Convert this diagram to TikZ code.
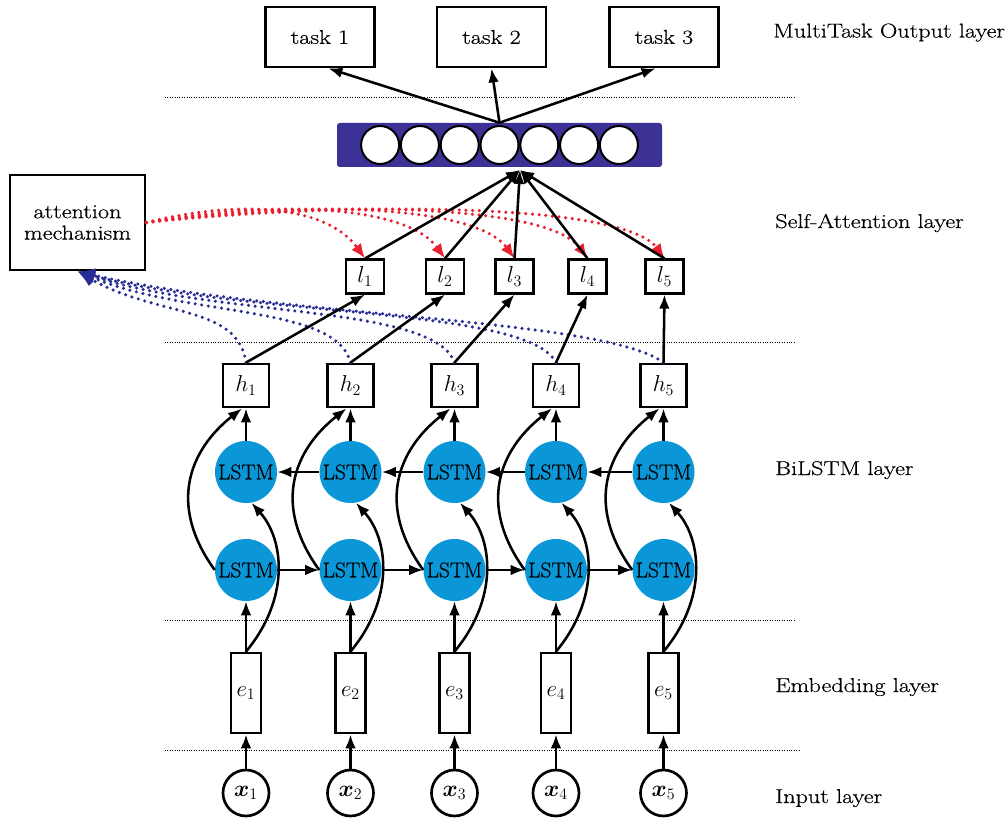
\documentclass[tikz,border=0pt]{standalone}
\usepackage[no-math]{fontspec}
\setmainfont{Latin Modern Roman}[FakeStretch=1.21,FakeBold=0.5]
\newfontfamily\plainlm{Latin Modern Roman}[FakeBold=0.5]
\usepackage{bm}
\usetikzlibrary{arrows.meta,calc}
\definecolor{lstmblue}{RGB}{10,150,215}
\definecolor{barblue}{RGB}{60,50,150}
\definecolor{attred}{RGB}{235,30,45}
\definecolor{dotblue}{RGB}{40,45,150}
\begin{document}
\begin{tikzpicture}[x=0.75pt,y=-0.75pt,
  every node/.style={font=\fontsize{15}{16}\selectfont},
  box/.style={draw,line width=2.1pt,inner sep=0pt,fill=white},
  mathbox/.style={box,font=\fontsize{17.28}{19}\selectfont},
  lstm/.style={circle,fill=lstmblue,inner sep=0pt,minimum size=46.5pt,font=\plainlm\fontsize{16}{18}\selectfont},
  arr/.style={line width=1.9pt,-{Latex[length=10.5pt,width=8pt]}},
  sep/.style={line width=0.7pt,dash pattern=on 0.7pt off 1.1pt},
  reddot/.style={attred,line width=2.6pt,line cap=round,dash pattern=on 0pt off 5pt,-{Latex[length=11pt,width=9pt]}},
  bluedot/.style={dotblue,line width=2.6pt,line cap=round,dash pattern=on 0pt off 5pt,-{Latex[length=13pt,width=11pt]}},
  layerlab/.style={anchor=base west,inner sep=0pt}
]
\useasboundingbox (0,0) rectangle (1008,820);

% layer separators
\coordinate (s1a) at (165,97);  \coordinate (s1b) at (795,97);
\coordinate (s2a) at (165,342); \coordinate (s2b) at (795,342);
\coordinate (s3a) at (165,620); \coordinate (s3b) at (795,620);
\coordinate (s4a) at (165,750); \coordinate (s4b) at (800,750);
\draw[sep] (s1a) -- (s1b);
\draw[sep] (s2a) -- (s2b);
\draw[sep] (s3a) -- (s3b);
\draw[sep] (s4a) -- (s4b);

% layer labels
\node[layerlab] (lab1) at (773,37.5) {MultiTask Output layer};
\node[layerlab] (lab2) at (775,228) {Self-Attention layer};
\node[layerlab] (lab3) at (775,475) {BiLSTM layer};
\node[layerlab] (lab4) at (775,692) {Embedding layer};
\node[layerlab] (lab5) at (775,803) {Input layer};

% tasks
\node[box,minimum width=81.75pt,minimum height=45pt] (t1) at (320,37) {task 1};
\node[box,minimum width=81.75pt,minimum height=45pt] (t2) at (491.5,37) {task 2};
\node[box,minimum width=81.75pt,minimum height=45pt] (t3) at (664,37) {task 3};

% attention vector
\node[fill=barblue,rounded corners=2pt,minimum width=243.75pt,minimum height=33pt,inner sep=0pt] (bar) at (499.5,145) {};
\foreach \k in {-3,...,3}
  \node[circle,draw,fill=white,line width=1.5pt,minimum size=28.5pt,inner sep=0pt] (v\k) at (499.5+\k*39.8,145) {};
\coordinate (vin) at (520,170);

% attention mechanism
\node[box,minimum width=101.25pt,minimum height=71.25pt,align=center] (att) at (77.5,222.5) {attention\\mechanism};

% l nodes
\foreach \cx [count=\i] in {365,445,514.5,587.5,664.5}
  \node[mathbox,minimum width=28.5pt,minimum height=25pt] (l\i) at (\cx,276.5) {$l_{\i}$};

% columns
\foreach \cx [count=\i] in {246,350.5,454.5,556,663.5} {
  \node[circle,draw,fill=white,line width=2pt,minimum size=34.5pt,inner sep=0pt,font=\fontsize{17.28}{19}\selectfont] (x\i) at (\cx,793) {$\bm{x}_{\i}$};
  \node[mathbox,minimum width=22.5pt,minimum height=60pt] (e\i) at (\cx,693) {$e_{\i}$};
  \node[lstm] (lb\i) at (\cx,570) {LSTM};
  \node[lstm] (lt\i) at (\cx,472) {LSTM};
  \node[mathbox,minimum width=34.5pt,minimum height=32.25pt] (h\i) at (\cx,385.5) {$h_{\i}$};
}

% blue dotted: h -> attention
\foreach \i/\a/\b/\c in {1/-8/-58/80,2/-14/-58/110,3/-20/-58/140,4/-28/-56/170,5/-60/-45/200}
  \draw[bluedot] (h\i.north) .. controls +(\a,\b) and +(\c,46) .. (att.south);

% red dotted: attention -> l
\foreach \i/\d in {1/88,2/120,3/148,4/177,5/208}
  \draw[reddot] (att.east) .. controls +(\d,-22) and +(-40,-55) .. (l\i.north);

% column connectors
\foreach \i in {1,...,5} {
  \draw[arr] (x\i) -- (e\i);
  \draw[arr] (e\i) -- (lb\i);
  \draw[arr] (lt\i) -- (h\i);
  \draw[arr] (lb\i.west) .. controls +(-47,-65) and +(-53,42) .. (h\i.-100);
  \draw[arr] (e\i.north) .. controls +(44,-53) and +(33,37) .. (lt\i.-80);
  \draw[arr] (h\i.north) -- (l\i.south);
  \draw[arr] (l\i.north) -- (vin);
}
\foreach \i/\j in {1/2,2/3,3/4,4/5} {
  \draw[arr] (lb\i) -- (lb\j);
  \draw[arr] (lt\j) -- (lt\i);
}

% output arrows
\draw[arr] (bar.north) -- (t1.-75);
\draw[arr] (bar.north) -- (t2.south);
\draw[arr] (bar.north) -- (t3.-105);
\end{tikzpicture}
\end{document}
